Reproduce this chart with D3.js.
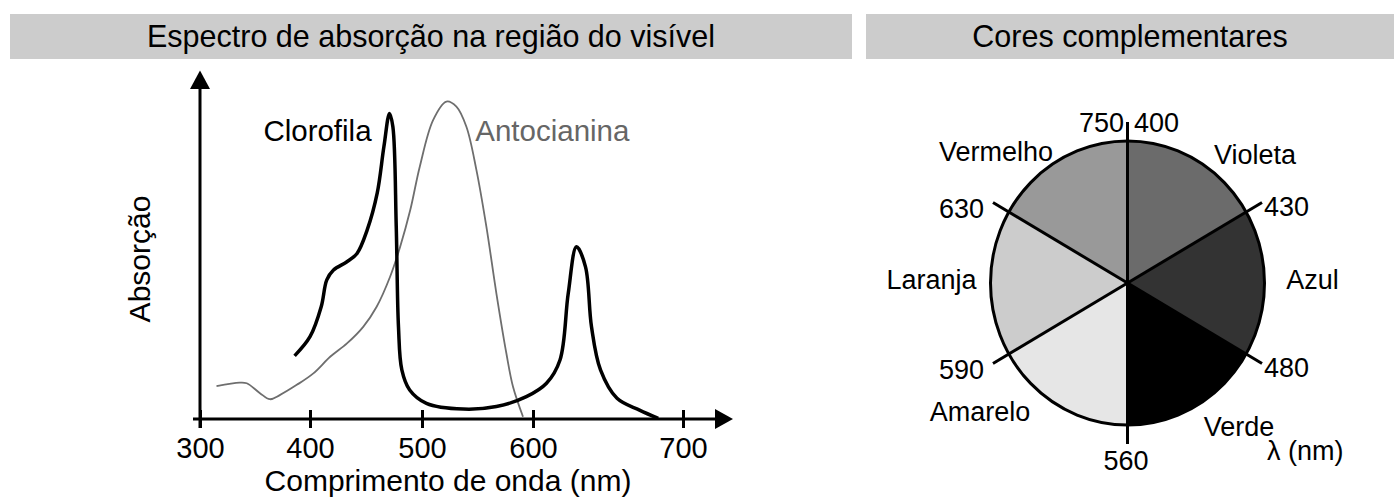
<!DOCTYPE html>
<html>
<head>
<meta charset="utf-8">
<script src="https://cdn.jsdelivr.net/npm/d3@7"></script>
<style>
  body { margin: 0; background: #fff; }
  svg { display: block; font-family: "Liberation Sans", Arial, sans-serif; }
</style>
</head>
<body>
<div id="chart"></div>
<script>
// wavelength ticks (nm)
const comprimentos = [300, 400, 500, 600, 700];

// chlorophyll absorption curve (nm, relative absorption)
const clorofilaNm = [386, 400, 410, 415, 421, 433, 442, 451, 460, 466, 471, 474, 477, 479, 482, 489, 504, 537, 567, 594, 609, 618, 623.5, 629, 635, 639, 645, 656, 671, 683.5];
const clorofilaAbs = [19.8, 25.8, 35.2, 43.6, 46.7, 49.3, 51.9, 59.2, 70.8, 85.4, 95.8, 91.6, 60.3, 28.9, 15.4, 9.1, 4.9, 3.1, 3.9, 7.0, 11.2, 18.5, 39.4, 54.0, 47.7, 28.9, 15.4, 6.5, 2.8, 0.2];

// anthocyanin absorption curve
const antocianinaNm = [315, 336, 342.5, 354.5, 363.5, 372.5, 388, 403, 418, 433, 447.5, 459.5, 471.5, 480.5, 489.5, 498, 510, 522, 531, 540, 549, 558, 567, 576, 582, 591];
const antocianinaAbs = [10.3, 11.4, 11.2, 8.1, 6.2, 7.5, 10.7, 14.3, 19.5, 23.7, 28.9, 35.2, 44.6, 54.0, 65.5, 79.1, 93.7, 99.5, 97.9, 91.6, 78.1, 60.3, 39.4, 20.6, 10.1, 0.7];

// colour wheel: sectors clockwise from the top, and the wavelength at each border
const coresNomes = ["Violeta", "Azul", "Verde", "Amarelo", "Laranja", "Vermelho"];
const coresTons = ["#6b6b6b", "#333333", "#000000", "#e6e6e6", "#cccccc", "#999999"];
const limites = [400, 430, 480, 560, 590, 630, 750];

const W = 1394, H = 497;
const svg = d3.select("#chart").append("svg")
    .attr("width", W)
    .attr("height", H);

// title bars
const bars = [
    { x0: 10, x1: 852, text: "Espectro de absorção na região do visível" },
    { x0: 866, x1: 1394, text: "Cores complementares" }
];
bars.forEach(b => {
    svg.append("rect")
        .attr("x", b.x0).attr("y", 14)
        .attr("width", b.x1 - b.x0).attr("height", 45)
        .attr("fill", "#cccccc");
    svg.append("text")
        .attr("x", (b.x0 + b.x1) / 2).attr("y", 47)
        .attr("text-anchor", "middle")
        .style("font-size", "30.5px")
        .attr("fill", "#000")
        .text(b.text);
});

// ---------- absorption spectrum ----------
// the axis in the figure is hand drawn: the 600-700 step is wider than the others
let x = d3.scaleLinear()
    .domain(comprimentos)
    .range([200, 310, 422, 533, 683]);
let y = d3.scaleLinear()
    .domain([0, 100])
    .range([419, 100]);

let spec = svg.append('g').attr('class', 'spectrum');
let x0 = x.range()[0], xEnd = x.range()[4] + 50, yBase = y(0);

// y axis with arrow
spec.append('line')
    .attr('x1', x0).attr('x2', x0)
    .attr('y1', yBase + 9).attr('y2', 88)
    .attr('stroke', '#000').attr('stroke-width', 3);
spec.append('path')
    .attr('d', `M${x0},70.5 L${x0 - 10},89 L${x0 + 10},89 Z`)
    .attr('fill', '#000');

// x axis with arrow
spec.append('line')
    .attr('x1', x0 - 7).attr('x2', xEnd - 16)
    .attr('y1', yBase).attr('y2', yBase)
    .attr('stroke', '#000').attr('stroke-width', 3);
spec.append('path')
    .attr('d', `M${xEnd},${yBase} L${xEnd - 18},${yBase - 10} L${xEnd - 18},${yBase + 10} Z`)
    .attr('fill', '#000');

let xAxis = spec.append('g')
    .attr('class', 'xaxis axis')
    .attr('transform', 'translate(0,' + yBase + ')')
    .call(d3.axisBottom(x).tickValues(comprimentos).tickFormat(d3.format('d')).tickSizeOuter(0));
xAxis.select('.domain').remove();
xAxis.attr('font-family', null).attr('font-size', null);
xAxis.selectAll('.tick line')
    .attr('y1', -9).attr('y2', 9)
    .attr('stroke', '#000').attr('stroke-width', 3);
xAxis.selectAll('.tick text')
    .attr('y', 39).attr('dy', 0)
    .attr('fill', '#000')
    .style('font-size', '29px');

spec.append('text')
    .attr('x', 448).attr('y', 491)
    .attr('text-anchor', 'middle')
    .style('font-size', '30px')
    .text('Comprimento de onda (nm)');

spec.append('text')
    .attr('transform', 'translate(150,259) rotate(-90)')
    .attr('text-anchor', 'middle')
    .style('font-size', '30px')
    .text('Absorção');

let line = d3.line()
    .x(d => x(d[0]))
    .y(d => y(d[1]))
    .curve(d3.curveCatmullRom.alpha(0.5));

spec.append('path')
    .datum(d3.zip(antocianinaNm, antocianinaAbs))
    .attr('d', line)
    .attr('fill', 'none')
    .attr('stroke', '#6e6e6e')
    .attr('stroke-width', 1.8);

spec.append('path')
    .datum(d3.zip(clorofilaNm, clorofilaAbs))
    .attr('d', line)
    .attr('fill', 'none')
    .attr('stroke', '#000')
    .attr('stroke-width', 3.5)
    .attr('stroke-linejoin', 'round');

spec.append('text')
    .attr('x', x(455)).attr('y', y(87))
    .attr('text-anchor', 'end')
    .style('font-size', '29.5px')
    .text('Clorofila');
spec.append('text')
    .attr('x', x(548)).attr('y', y(87))
    .attr('fill', '#666')
    .style('font-size', '29.5px')
    .text('Antocianina');

// ---------- colour wheel ----------
const cx = 1127.5, cy = 283, R = 142, sx = 137 / 142, Rline = 161, Rname = 186;

let arcs = d3.pie().value(1).sort(null)(coresNomes);
let arc = d3.arc().innerRadius(0).outerRadius(R);

let wheel = svg.append('g').attr('class', 'wheel');
wheel.append('g')
    .attr('transform', `translate(${cx},${cy}) scale(${sx},1)`)
    .selectAll('path')
    .data(arcs)
    .enter().append('path')
    .attr('d', arc)
    .attr('fill', (d, i) => coresTons[i]);

wheel.append('ellipse')
    .attr('cx', cx).attr('cy', cy)
    .attr('rx', R * sx).attr('ry', R)
    .attr('fill', 'none')
    .attr('stroke', '#000').attr('stroke-width', 3);

// polar point on the (slightly squashed) wheel
const polar = (a, r) => [cx + sx * r * Math.sin(a), cy - r * Math.cos(a)];

// border lines and wavelength labels
let borders = limites.map((v, i) => ({
    valor: v,
    angulo: i < arcs.length ? arcs[i].startAngle : arcs[arcs.length - 1].endAngle,
    fim: i === limites.length - 1
}));

borders.filter(d => !d.fim).forEach(d => {
    let e = polar(d.angulo, Rline);
    wheel.append('line')
        .attr('x1', cx).attr('y1', cy)
        .attr('x2', e[0]).attr('y2', e[1])
        .attr('stroke', '#000').attr('stroke-width', 3);
});

borders.forEach(d => {
    let e = polar(d.angulo, Rline);
    let s = Math.sin(d.angulo), c = Math.cos(d.angulo);
    let tx, ty, anchor;
    if (Math.abs(s) < 0.01 && c > 0) {
        // top: 400 on the right of the line, 750 on the left
        anchor = d.fim ? 'end' : 'start';
        tx = d.fim ? e[0] - 3.5 : e[0] + 6.5;
        ty = e[1] + 9.5;
    } else if (Math.abs(s) < 0.01) {
        anchor = 'middle'; tx = e[0] - 1.5; ty = e[1] + 26;
    } else if (s > 0) {
        anchor = 'start'; tx = e[0] + 2; ty = e[1] + 13.5;
    } else {
        anchor = 'end'; tx = e[0] - 9; ty = e[1] + 15;
    }
    wheel.append('text')
        .attr('x', tx).attr('y', ty)
        .attr('text-anchor', anchor)
        .style('font-size', '27px')
        .text(d.valor);
});

// colour names: corner sectors pushed toward the diagonals
const nudge = { Verde: [-20, 12], Amarelo: [-16, -3], Laranja: [-10, -4], Azul: [-1, -4], Violeta: [-4, 3] };
arcs.forEach((d, i) => {
    let mid = (d.startAngle + d.endAngle) / 2;
    let deg = mid * 180 / Math.PI;
    let push = (deg % 180 === 90) ? 0 : (Math.sin(mid) * Math.cos(mid) > 0 ? 15 : -15);
    let p = [cx + Rname * Math.sin(mid + push * Math.PI / 180), cy - Rname * Math.cos(mid + push * Math.PI / 180)];
    let n = nudge[d.data] || [0, 0];
    wheel.append('text')
        .attr('x', p[0] + n[0]).attr('y', p[1] + n[1] + 9.5)
        .attr('text-anchor', 'middle')
        .style('font-size', '27px')
        .text(d.data);
});

wheel.append('text')
    .attr('x', cx + 216).attr('y', cy + 176.5)
    .attr('text-anchor', 'end')
    .style('font-size', '27px')
    .text('λ (nm)');
</script>
</body>
</html>
